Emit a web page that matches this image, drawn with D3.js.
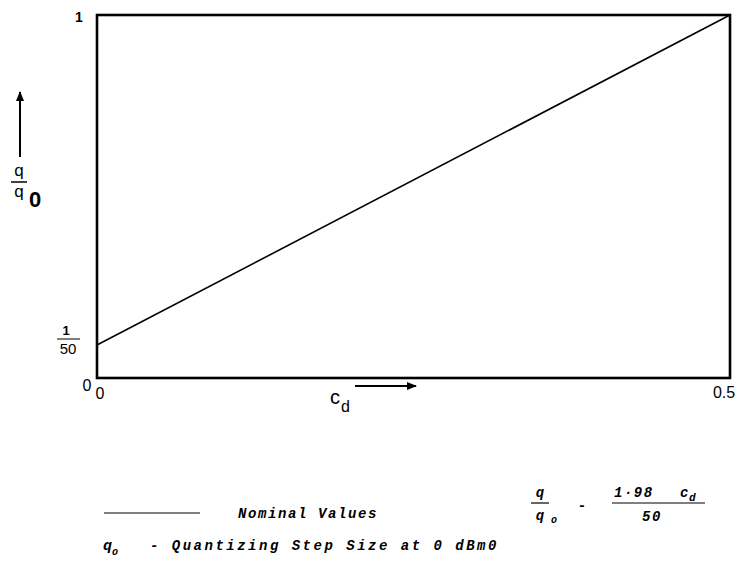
<!DOCTYPE html>
<html>
<head>
<meta charset="utf-8">
<script src="https://cdnjs.cloudflare.com/ajax/libs/d3/7.8.5/d3.min.js"></script>
<style>
  body { margin: 0; background: #fff; }
  svg { display: block; }
</style>
</head>
<body>
<div class="chart"></div>
<script>
// data
var cdValues = [0, 0.5];
var ratioValues = [0.02, 1];          // q/q0 = (1 + 98 cd) / 50
var xTicks = [0, 0.5];
var xTickLabels = ['0', '0.5'];
var yTicks = [0, 0.02, 1];
var legendLabel = 'Nominal Values';
var footnote = '- Quantizing Step Size at 0 dBm0';

var W = 738, H = 571;
var plot = { left: 97, top: 15, right: 730, bottom: 378 };

var svg = d3.select('.chart')
  .append('svg')
  .attr('width', W)
  .attr('height', H);

var xScale = d3.scaleLinear()
  .domain([0, 0.5])
  .range([plot.left, plot.right]);

// the original drawing is not to scale near the bottom, so piecewise
var yScale = d3.scaleLinear()
  .domain([0, 0.02, 1])
  .range([plot.bottom, 345, plot.top]);

var ink = '#000';
var tickFont = "'Liberation Sans', sans-serif";
var monoFont = "'Liberation Mono', 'DejaVu Sans Mono', monospace";

// frame
svg.append('rect')
  .attr('x', plot.left)
  .attr('y', plot.top)
  .attr('width', plot.right - plot.left)
  .attr('height', plot.bottom - plot.top)
  .style('fill', 'none')
  .style('stroke', ink)
  .style('stroke-width', 2.6);

// the curve
var line = d3.line()
  .x(d => xScale(d[0]))
  .y(d => yScale(d[1]));

svg.append('path')
  .datum(d3.zip(cdValues, ratioValues))
  .attr('d', line)
  .style('fill', 'none')
  .style('stroke', ink)
  .style('stroke-width', 1.6);

// y tick labels
svg.append('text')
  .attr('x', plot.left - 18)
  .attr('y', yScale(1) + 7)
  .style('font-family', tickFont)
  .style('font-size', '14px')
  .style('font-weight', 'bold')
  .style('text-anchor', 'middle')
  .text('1');

var fracY = yScale(yTicks[1]);
svg.append('text')
  .attr('x', 66)
  .attr('y', fracY - 10)
  .style('font-family', tickFont)
  .style('font-size', '13px')
  .style('font-weight', 'bold')
  .style('text-anchor', 'middle')
  .text('1');
svg.append('line')
  .attr('x1', 57).attr('x2', 80)
  .attr('y1', fracY - 6).attr('y2', fracY - 6)
  .style('stroke', ink)
  .style('stroke-width', 1);
svg.append('text')
  .attr('x', 68)
  .attr('y', fracY + 9)
  .style('font-family', tickFont)
  .style('font-size', '15px')
  .style('text-anchor', 'middle')
  .text('50');

svg.append('text')
  .attr('x', plot.left - 10)
  .attr('y', yScale(0) + 13)
  .style('font-family', tickFont)
  .style('font-size', '16px')
  .style('text-anchor', 'middle')
  .text('0');

// x tick labels
svg.selectAll('.xtick')
  .data(xTicks)
  .enter()
  .append('text')
  .attr('class', 'xtick')
  .attr('x', (d, i) => xScale(d) + (i === 0 ? 3 : -6))
  .attr('y', (d, i) => plot.bottom + (i === 0 ? 21 : 20))
  .style('font-family', tickFont)
  .style('font-size', '16px')
  .style('text-anchor', 'middle')
  .text((d, i) => xTickLabels[i]);

// arrow marker
svg.append('defs').append('marker')
  .attr('id', 'arrow')
  .attr('viewBox', '0 0 10 10')
  .attr('refX', 9).attr('refY', 5)
  .attr('markerWidth', 5).attr('markerHeight', 5)
  .attr('orient', 'auto')
  .append('path')
  .attr('d', 'M0,1 L10,5 L0,9 z')
  .style('fill', ink);

// y axis label q / q0 with arrow
svg.append('line')
  .attr('x1', 20).attr('x2', 20)
  .attr('y1', 157).attr('y2', 92)
  .attr('marker-end', 'url(#arrow)')
  .style('stroke', ink)
  .style('stroke-width', 2);
svg.append('text')
  .attr('x', 19).attr('y', 176)
  .style('font-family', tickFont)
  .style('font-size', '17px')
  .style('text-anchor', 'middle')
  .text('q');
svg.append('line')
  .attr('x1', 11).attr('x2', 27)
  .attr('y1', 182).attr('y2', 182)
  .style('stroke', ink)
  .style('stroke-width', 1.5);
svg.append('text')
  .attr('x', 19).attr('y', 197)
  .style('font-family', tickFont)
  .style('font-size', '17px')
  .style('text-anchor', 'middle')
  .text('q');
svg.append('text')
  .attr('x', 35).attr('y', 207)
  .style('font-family', tickFont)
  .style('font-size', '22px')
  .style('font-weight', 'bold')
  .style('text-anchor', 'middle')
  .text('0');

// x axis label cd with arrow
svg.append('text')
  .attr('x', 330).attr('y', 404)
  .style('font-family', tickFont)
  .style('font-size', '20px')
  .text('c');
svg.append('text')
  .attr('x', 341).attr('y', 412)
  .style('font-family', tickFont)
  .style('font-size', '16px')
  .text('d');
svg.append('line')
  .attr('x1', 355).attr('x2', 416)
  .attr('y1', 386).attr('y2', 386)
  .attr('marker-end', 'url(#arrow)')
  .style('stroke', ink)
  .style('stroke-width', 2);

// legend
svg.append('line')
  .attr('x1', 104).attr('x2', 200)
  .attr('y1', 513).attr('y2', 513)
  .style('stroke', ink)
  .style('stroke-width', 1);

function italic(x, y, str, size, anchor) {
  return svg.append('text')
    .attr('x', x).attr('y', y)
    .style('font-family', monoFont)
    .style('font-size', (size || 14) + 'px')
    .style('font-style', 'italic')
    .style('font-weight', 'bold')
    .style('text-anchor', anchor || 'start')
    .text(str);
}

italic(238, 518, legendLabel, 14).style('letter-spacing', '1.6px');

// formula q/q0 = (1+98 cd)/50
italic(540, 497, 'q', 14, 'middle');
svg.append('line')
  .attr('x1', 531).attr('x2', 549)
  .attr('y1', 503).attr('y2', 503)
  .style('stroke', ink).style('stroke-width', 1.2);
italic(540, 520, 'q', 14, 'middle');
italic(554, 523, 'o', 10, 'middle');
italic(582, 510, '-', 14, 'middle');
italic(614, 497, '1\u00B798', 14).style('letter-spacing', '1.5px');
italic(680, 497, 'c', 14);
italic(689, 501, 'd', 11);
svg.append('line')
  .attr('x1', 612).attr('x2', 705)
  .attr('y1', 503).attr('y2', 503)
  .style('stroke', ink).style('stroke-width', 1.2);
italic(652, 521, '50', 14, 'middle').style('letter-spacing', '1.5px');

// footnote
italic(103, 550, 'q', 15);
italic(112, 555, 'o', 10);
italic(150, 550, footnote, 14).style('letter-spacing', '2.5px');
</script>
</body>
</html>
